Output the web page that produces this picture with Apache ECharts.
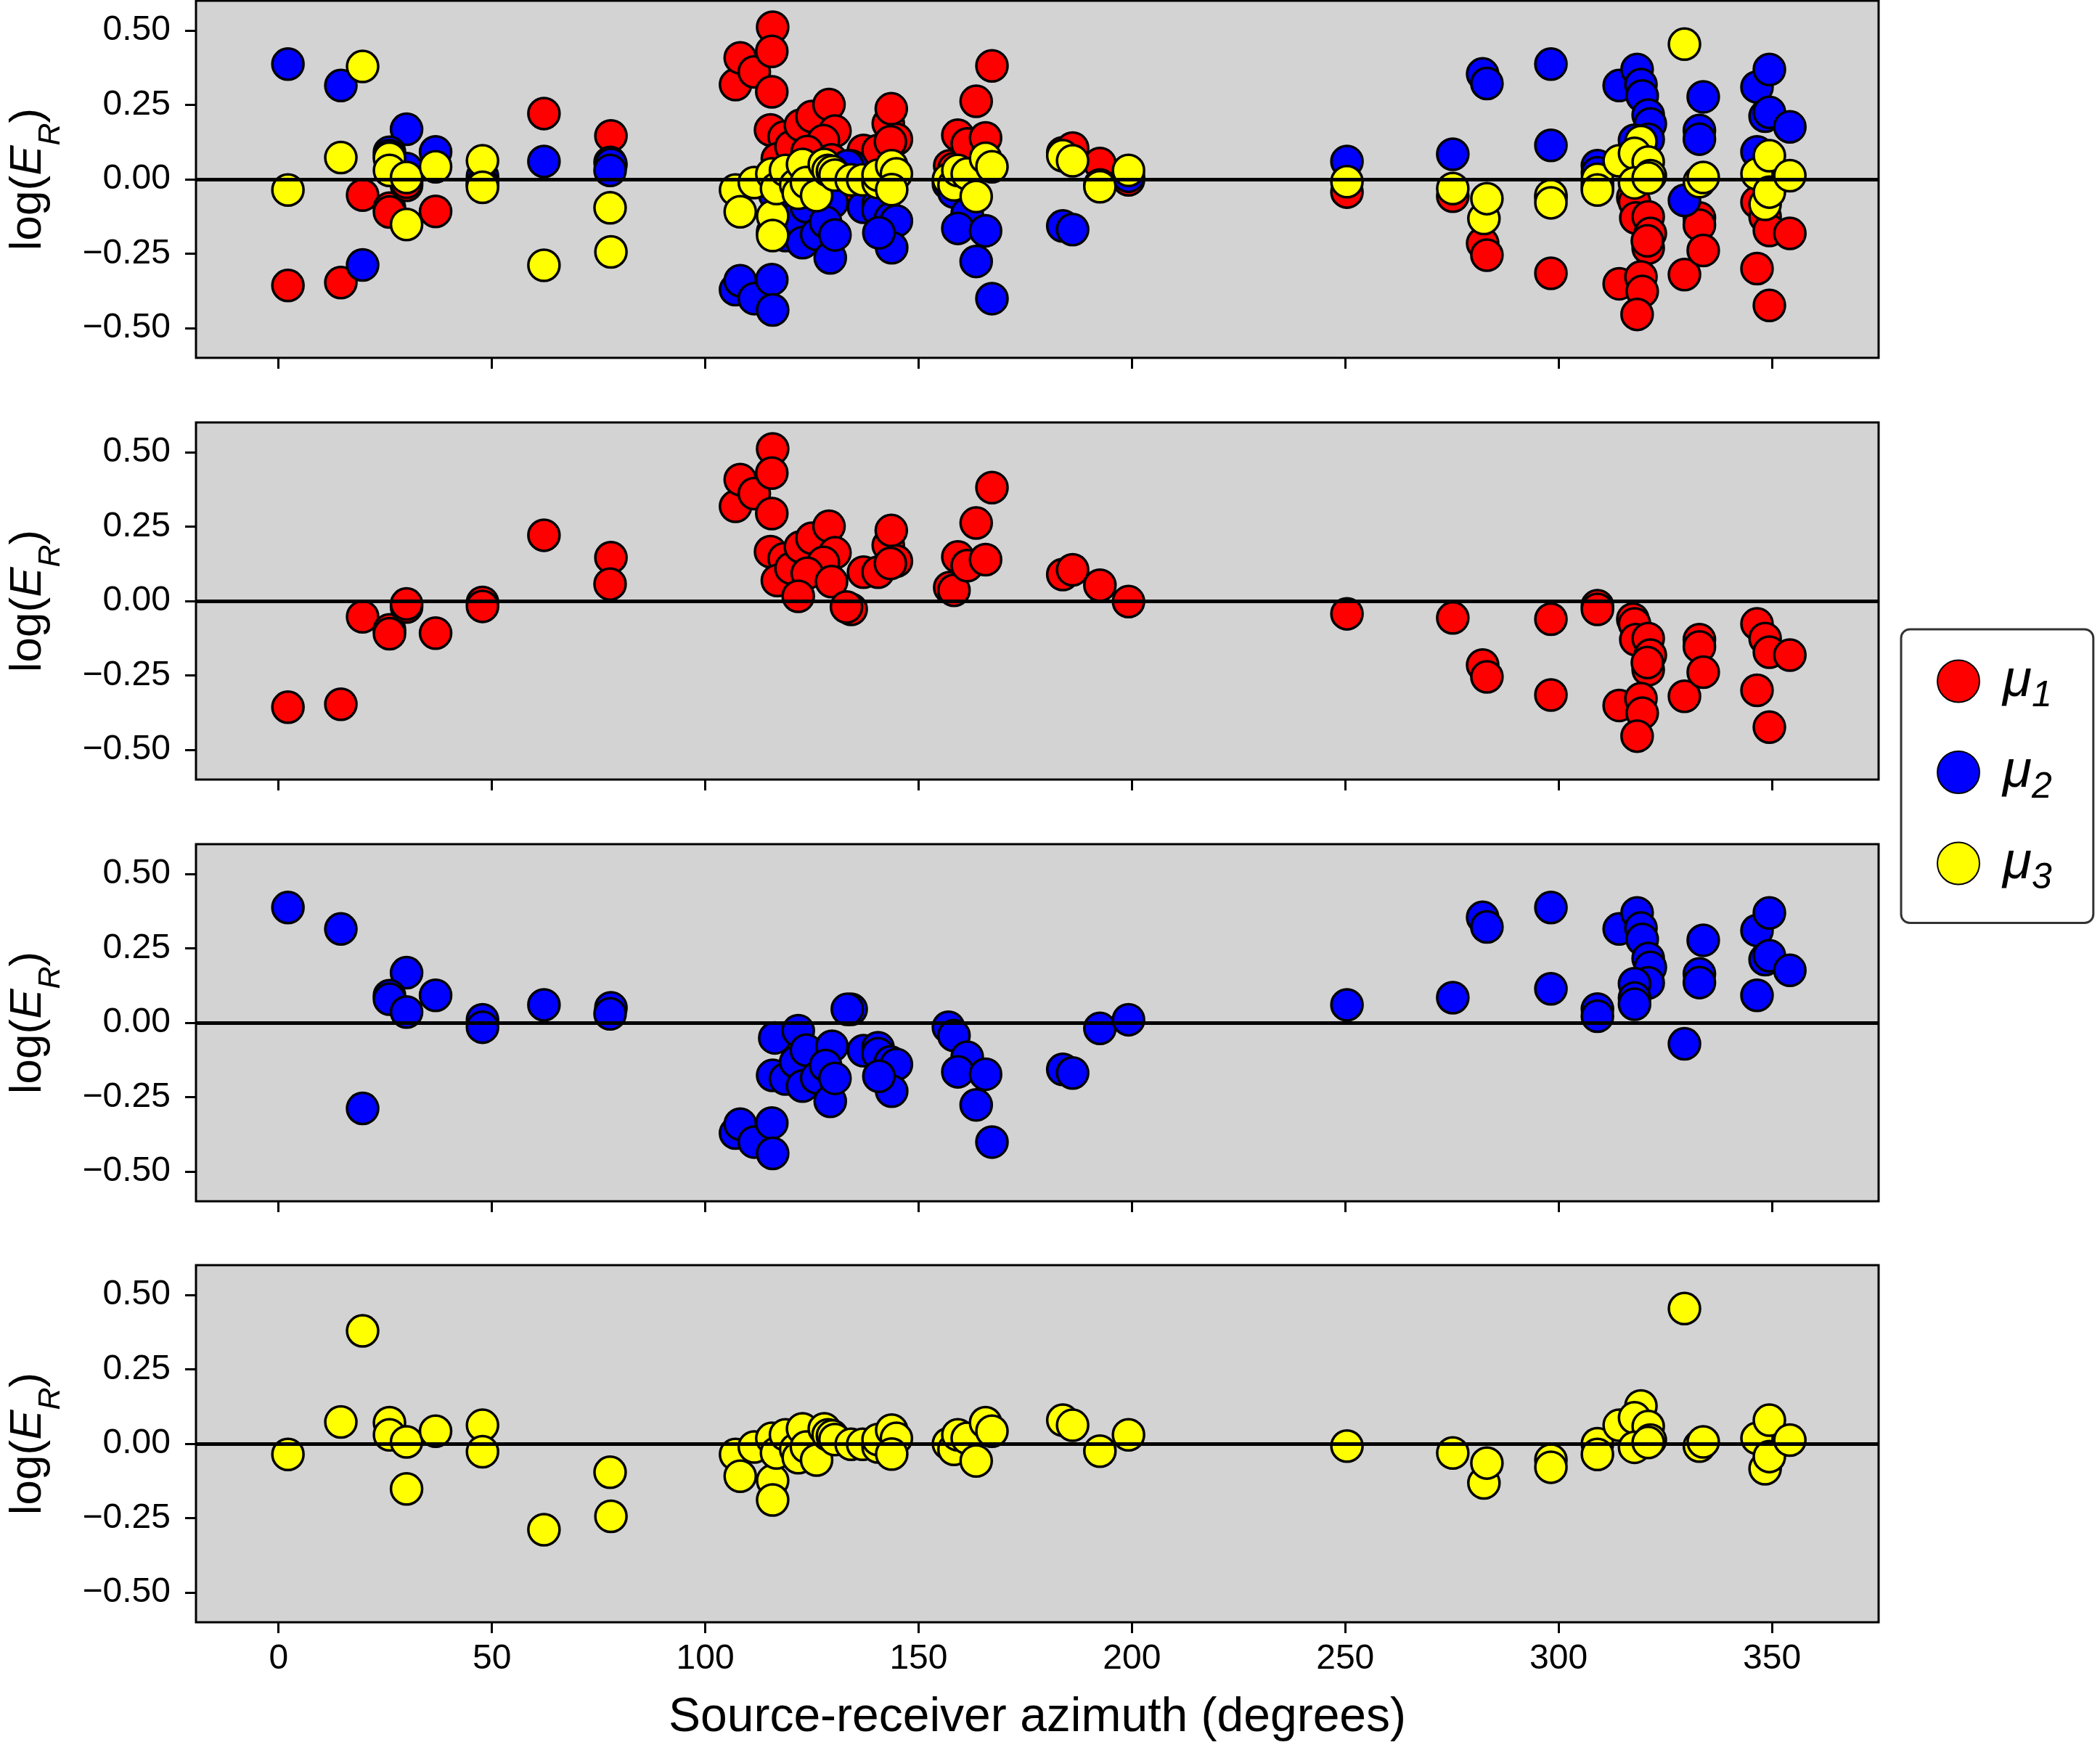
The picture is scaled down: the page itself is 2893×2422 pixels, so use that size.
<!DOCTYPE html>
<html>
<head>
<meta charset="utf-8">
<script src="https://cdn.jsdelivr.net/npm/echarts@6/dist/echarts.min.js"></script>
<style>html,body{margin:0;padding:0;background:#fff}#c{width:2893px;height:2422px}</style>
</head>
<body>
<div id="c"></div>
<script>
// ---- data ----
const xTicks = [0, 50, 100, 150, 200, 250, 300, 350];
const yTicks = [-0.5, -0.25, 0, 0.25, 0.5];

const az1 = [2.2, 14.6, 19.7, 26.0, 26.0, 30.0, 30.0, 36.8, 47.8, 47.8, 62.2, 77.9, 77.7,
 107.1, 108.2, 111.5, 115.8, 115.6, 115.6, 115.3, 118.5, 116.9, 120.1, 122.3, 125.0, 129.0, 130.4, 127.7, 123.9, 129.6, 121.8, 134.2, 133.1, 137.1, 140.5, 142.9, 143.6, 144.8, 143.4,
 157.3, 158.3, 159.2, 161.4, 163.5, 165.7, 167.2, 183.8, 186.1, 192.5, 199.2,
 250.4, 275.2, 282.2, 283.2, 298.2, 298.2, 309.1, 309.1, 314.2, 317.4, 317.8, 318.1, 321.0, 321.5, 321.0, 320.8, 319.3, 319.6, 318.4, 329.5, 333.0, 333.0, 333.9, 346.5, 348.4, 349.4, 354.2, 346.5, 349.4];
const val1 = [-0.357, -0.347, -0.053, -0.097, -0.110, -0.020, -0.010, -0.108, -0.005, -0.018, 0.221, 0.146, 0.057,
 0.318, 0.408, 0.361, 0.511, 0.430, 0.294, 0.166, 0.142, 0.069, 0.110, 0.182, 0.211, 0.251, 0.162, 0.130, 0.093, 0.065, 0.016, -0.028, -0.020, 0.097, 0.097, 0.187, 0.237, 0.134, 0.126,
 0.045, 0.036, 0.148, 0.119, 0.262, 0.139, 0.381, 0.089, 0.105, 0.053, -0.002,
 -0.043, -0.057, -0.215, -0.255, -0.061, -0.316, -0.016, -0.028, -0.351, -0.061, -0.077, -0.130, -0.126, -0.182, -0.231, -0.207, -0.328, -0.377, -0.454, -0.320, -0.130, -0.154, -0.239, -0.077, -0.126, -0.172, -0.182, -0.300, -0.424];

const az2 = [2.2, 14.6, 19.7, 30.0, 26.0, 26.0, 30.0, 36.8, 47.8, 47.8, 62.2, 77.9, 77.7,
 107.1, 108.2, 111.5, 115.6, 115.8, 116.3, 115.8, 118.8, 121.2, 121.8, 122.8, 123.7, 126.1, 129.3, 129.7, 128.2, 130.4, 134.2, 133.3, 137.1, 140.5, 140.5, 143.4, 144.8, 143.7, 140.7,
 157.0, 158.3, 161.4, 159.2, 165.7, 163.5, 167.2, 183.8, 186.1, 192.5, 199.2,
 250.4, 275.2, 282.2, 283.2, 298.2, 298.2, 309.1, 309.1, 314.2, 318.4, 319.3, 319.6, 321.0, 321.5, 321.0, 317.8, 317.8, 317.8, 329.5, 333.9, 333.0, 333.0, 346.5, 349.4, 348.4, 349.4, 354.2, 346.5];
const val2 = [0.387, 0.315, -0.288, 0.168, 0.091, 0.079, 0.036, 0.092, 0.010, -0.015, 0.060, 0.050, 0.030,
 -0.371, -0.341, -0.401, -0.337, -0.439, -0.051, -0.177, -0.189, -0.132, -0.027, -0.213, -0.092, -0.185, -0.264, -0.079, -0.144, -0.187, 0.045, 0.045, -0.094, -0.084, -0.104, -0.132, -0.140, -0.230, -0.180,
 -0.015, -0.043, -0.116, -0.165, -0.173, -0.276, -0.401, -0.157, -0.169, -0.019, 0.010,
 0.060, 0.084, 0.354, 0.322, 0.387, 0.114, 0.046, 0.022, 0.315, 0.369, 0.318, 0.280, 0.216, 0.186, 0.134, 0.131, 0.083, 0.062, -0.071, 0.277, 0.164, 0.135, 0.310, 0.369, 0.212, 0.225, 0.176, 0.092];

const az3 = [2.2, 14.6, 19.7, 26.0, 26.0, 30.0, 30.0, 36.8, 47.8, 47.8, 62.2, 77.7, 77.9,
 107.1, 108.2, 111.5, 115.6, 115.8, 115.8, 116.7, 118.8, 121.2, 121.8, 122.8, 123.7, 126.1, 127.9, 128.8, 129.8, 130.4, 134.2, 136.9, 140.5, 140.5, 143.7, 144.8, 143.7,
 157.0, 158.3, 159.2, 161.4, 163.5, 165.7, 167.2, 183.8, 186.1, 192.5, 199.2,
 250.4, 275.2, 282.5, 283.2, 298.2, 298.2, 309.1, 309.1, 314.2, 319.3, 317.8, 321.0, 321.5, 317.8, 321.0, 333.0, 333.9, 329.5, 346.5, 349.4, 348.4, 349.4, 354.2];
const val3 = [-0.036, 0.073, 0.379, 0.071, 0.030, 0.006, -0.152, 0.042, 0.062, -0.027, -0.289, -0.096, -0.244,
 -0.036, -0.109, -0.011, 0.018, -0.124, -0.189, -0.031, 0.030, -0.019, -0.047, 0.050, -0.011, -0.055, 0.050, 0.030, 0.026, 0.014, -0.002, -0.002, -0.011, 0.014, 0.046, 0.018, -0.035,
 0.000, -0.019, 0.030, 0.018, -0.058, 0.071, 0.042, 0.079, 0.062, -0.025, 0.030,
 -0.008, -0.031, -0.132, -0.065, -0.055, -0.079, 0.000, -0.036, 0.062, 0.127, 0.087, 0.058, 0.012, -0.012, 0.004, -0.008, 0.006, 0.454, 0.018, 0.079, -0.084, -0.043, 0.012];

const seriesNames = ['mu1', 'mu2', 'mu3'];
const seriesColors = ['#ff0000', '#0000ff', '#ffff00'];
const xTitle = 'Source-receiver azimuth (degrees)';

// ---- chart ----
const FONT = '"Liberation Sans", Arial, Helvetica, sans-serif';
const pairs = (a, v) => a.map((x, i) => [x, v[i]]);
const sets = [pairs(az1, val1), pairs(az2, val2), pairs(az3, val3)];

const gridTops = [1, 582, 1163, 1743];
const grids = gridTops.map(t => ({
  left: 265, top: t, width: 2323, height: 492,
  show: true, backgroundColor: '#d3d3d3', borderColor: '#000', borderWidth: 3
}));

const xAxes = gridTops.map((t, i) => ({
  type: 'value', gridIndex: i, min: -19.35, max: 375, position: 'bottom',
  axisLine: { show: false, onZero: false },
  splitLine: { show: false },
  axisTick: { show: true, customValues: xTicks, length: 15, lineStyle: { color: '#000', width: 3 } },
  axisLabel: { show: i === 3, customValues: xTicks, fontSize: 48, margin: 27, color: '#000', fontFamily: FONT,
               formatter: v => String(v) },
  name: i === 3 ? xTitle : '', nameLocation: 'middle', nameGap: 99,
  nameTextStyle: { fontSize: 66, color: '#000', fontFamily: FONT }
}));

const yAxes = gridTops.map((t, i) => ({
  type: 'value', gridIndex: i, min: -0.6, max: 0.6, position: 'left',
  axisLine: { show: false, onZero: false },
  splitLine: { show: false },
  axisTick: { show: true, customValues: yTicks, length: 15, lineStyle: { color: '#000', width: 3 } },
  axisLabel: { customValues: yTicks, fontSize: 48, margin: 35, color: '#000', fontFamily: FONT,
               formatter: v => v.toFixed(2).replace('-', '\u2212') },
  name: '{n|log(}{i|E}{s|R}{n|)}', nameLocation: 'middle', nameGap: 178, nameRotate: 90,
  nameTextStyle: {
    color: '#000', fontFamily: FONT,
    rich: {
      n: { fontSize: 62, lineHeight: 106, fontFamily: FONT, color: '#000' },
      i: { fontSize: 62, lineHeight: 106, fontStyle: 'italic', fontFamily: FONT, color: '#000' },
      s: { fontSize: 43, lineHeight: 43, fontStyle: 'italic', verticalAlign: 'bottom', fontFamily: FONT, color: '#000' }
    }
  }
}));

const zeroLine = {
  silent: true, symbol: ['none', 'none'], label: { show: false },
  lineStyle: { color: '#000', width: 5, type: 'solid' },
  emphasis: { disabled: true },
  data: [{ yAxis: 0 }]
};

function scatter(k, gi, withLine) {
  const s = {
    type: 'scatter', name: seriesNames[k], xAxisIndex: gi, yAxisIndex: gi,
    data: sets[k], symbol: 'circle', symbolSize: 43,
    itemStyle: { color: seriesColors[k], borderColor: '#000', borderWidth: 3.5, opacity: 1 },
    emphasis: { disabled: true }
  };
  if (withLine) s.markLine = zeroLine;
  return s;
}

const series = [
  scatter(0, 0, false), scatter(1, 0, false), scatter(2, 0, true),
  scatter(0, 1, true), scatter(1, 2, true), scatter(2, 3, true)
];

const option = {
  animation: false,
  backgroundColor: '#fff',
  textStyle: { fontFamily: FONT },
  grid: grids, xAxis: xAxes, yAxis: yAxes, series: series,
  legend: {
    data: seriesNames, orient: 'vertical', left: 2619, top: 867,
    padding: [35, 57, 36, 49], itemWidth: 58, itemHeight: 58, itemGap: 43,
    icon: 'circle', selectedMode: false,
    borderColor: '#333', borderWidth: 3, borderRadius: 12, backgroundColor: '#fff',
    formatter: name => '{m|\u03bc}{s|' + name.slice(2) + '}',
    textStyle: {
      color: '#000', fontFamily: FONT,
      rich: {
        m: { fontSize: 73, lineHeight: 92, fontStyle: 'italic', padding: [0, 0, 0, 27], fontFamily: FONT, color: '#000' },
        s: { fontSize: 50, lineHeight: 50, fontStyle: 'italic', verticalAlign: 'bottom', fontFamily: FONT, color: '#000' }
      }
    }
  }
};

const chart = echarts.init(document.getElementById('c'), null, { renderer: 'canvas' });
chart.setOption(option);
</script>
</body>
</html>
